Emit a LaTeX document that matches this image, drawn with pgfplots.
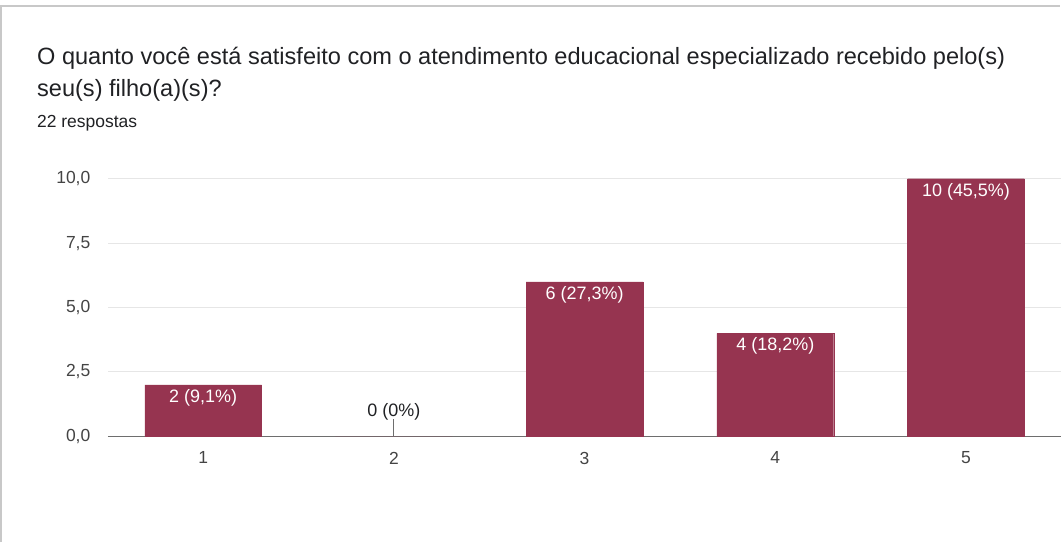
\documentclass[border=0pt]{standalone}
\usepackage{fontspec}
\setmainfont{Liberation Sans}
\usepackage{pgfplots}
\pgfplotsset{compat=1.18}
\definecolor{barc}{HTML}{963450}
\definecolor{gridc}{HTML}{E6E6E6}
\definecolor{axc}{HTML}{6E6E6E}
\definecolor{txt}{HTML}{444444}
\definecolor{ttl}{HTML}{202124}
\definecolor{brd}{HTML}{C8C8C8}
\begin{document}
\begin{tikzpicture}
\begin{axis}[
  name=ax,
  scale only axis, width=955pt, height=258pt,
  xmin=0.5, xmax=5.5, ymin=0, ymax=10,
  axis x line*=bottom, axis y line*=left,
  x axis line style={axc, line width=1.3pt, -},
  y axis line style={draw=none},
  xtick={1,2,3,4,5}, xticklabels={1,2,3,4,5},
  ytick={0,2.5,5,7.5,10},
  major tick length=0pt,
  ymajorgrids, grid style={gridc, line width=1pt},
  tick label style={font=\fontsize{17.5}{21}\selectfont, text=txt},
  xticklabel style={yshift=-12pt},
  yticklabel style={xshift=-14pt},
  yticklabel={\pgfmathprintnumber[fixed, fixed zerofill, precision=1, use comma, assume math mode=true]{\tick}},
  tick style={draw=none},
  clip=false,
]
\addplot[ybar, bar width=117pt, bar shift=0pt, fill=barc, draw=barc,
  point meta=explicit symbolic,
  nodes near coords,
  every node near coord/.append style={anchor=north, yshift=-1pt, text=white, font=\fontsize{18}{21}\selectfont},
] table[meta=lab] {
x y lab
1 2 {2 (9,1\%)}
3 6 {6 (27,3\%)}
4 4 {4 (18,2\%)}
5 10 {10 (45,5\%)}
};
\addplot[ybar, bar width=117pt, bar shift=0pt, fill=barc, draw=none,
  point meta=explicit symbolic,
  nodes near coords,
  every node near coord/.append style={anchor=south, yshift=13pt, text=ttl, font=\fontsize{18}{21}\selectfont},
] table[meta=lab] {
x y lab
2 0 {0 (0\%)}
};
\draw[axc, line width=1pt] (axis cs:2,0) -- (axis cs:2,0.66);
\end{axis}
\begin{scope}[shift={(ax.south west)}, x=1pt, y=1pt]
\path[use as bounding box] (-108,-106) rectangle (954,437);
\draw[brd, line width=1.2pt] (-107,-106) -- (-107,431) -- (954,431);
\node[anchor=base west, inner sep=0pt, font=\fontsize{23.6}{28}\selectfont, text=ttl] at (-71,372) {O quanto você está satisfeito com o atendimento educacional especializado recebido pelo(s)};
\node[anchor=base west, inner sep=0pt, font=\fontsize{23.6}{28}\selectfont, text=ttl] at (-71,340) {seu(s) filho(a)(s)?};
\node[anchor=base west, inner sep=0pt, font=\fontsize{17.5}{21}\selectfont, text=ttl] at (-71,309) {22 respostas};
\end{scope}
\end{tikzpicture}
\end{document}
